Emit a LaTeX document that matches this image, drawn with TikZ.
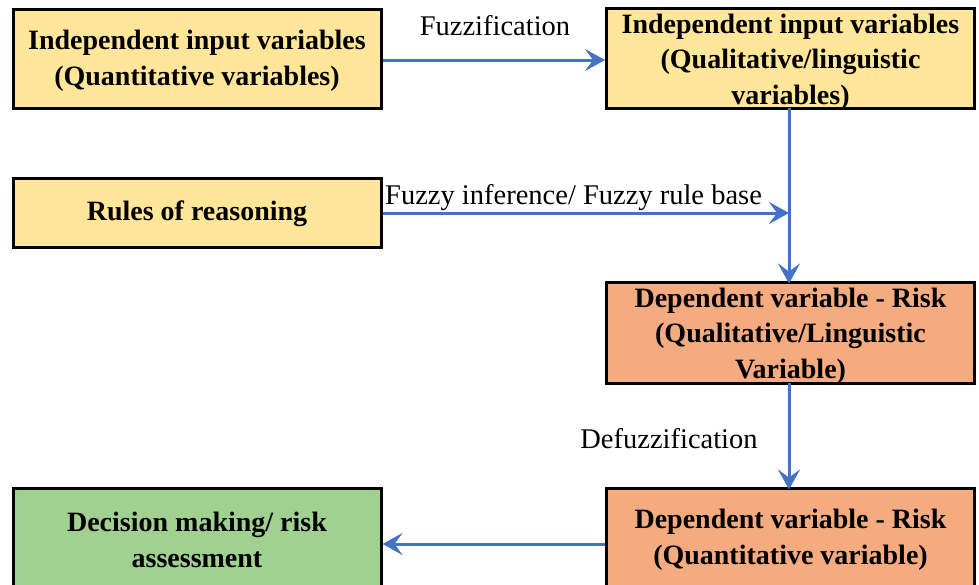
\documentclass[tikz,border=0pt]{standalone}
\usepackage{fontspec}
\setmainfont{Liberation Serif}
\usetikzlibrary{arrows.meta}
\definecolor{boxyellow}{HTML}{FFE699}
\definecolor{boxorange}{HTML}{F4AB7F}
\definecolor{boxgreen}{HTML}{A0D190}
\definecolor{flowblue}{HTML}{4472C4}
\tikzset{
  box/.style={draw=black, line width=3pt, minimum width=368pt, inner sep=0pt},
  boxtext/.style={font=\fontsize{28}{35.5}\selectfont\bfseries, align=center, inner sep=0pt},
  flow/.style={draw=flowblue, line width=3pt,
    -{Stealth[length=20pt, width=22pt, inset=8pt]}},
  flowlabel/.style={font=\fontsize{28.5}{32}\selectfont, inner sep=0pt}
}
\begin{document}
\begin{tikzpicture}[x=1pt, y=-1pt]
\useasboundingbox (0,0) rectangle (979,584);

% boxes
\node[box, fill=boxyellow, minimum height=99pt]  (A) at (197,58.5) {};
\node[box, fill=boxyellow, minimum height=100pt] (B) at (790.5,58) {};
\node[box, fill=boxyellow, minimum height=69pt]  (C) at (197,212.5) {};
\node[box, fill=boxorange, minimum height=101pt] (D) at (790.5,332.5) {};
\node[box, fill=boxgreen,  minimum height=104pt] (E) at (197,540) {};
\node[box, fill=boxorange, minimum height=104pt] (F) at (790.5,540) {};

% box texts
\node[boxtext] (tA) at (197,61) {Independent input variables\\(Quantitative variables)};
\node[boxtext] (tB) at (790.5,62) {Independent input variables\\(Qualitative/linguistic\\variables)};
\node[boxtext] (tC) at (197,214) {Rules of reasoning};
\node[boxtext] (tD) at (790.5,336) {Dependent variable - Risk\\(Qualitative/Linguistic\\Variable)};
\node[boxtext] (tE) at (197,540) {Decision making/ risk\\assessment};
\node[boxtext] (tF) at (790.5,540) {Dependent variable - Risk\\(Quantitative variable)};

% connectors
\coordinate (Bb) at (789,108);
\coordinate (Dt) at (789,282);
\coordinate (Db) at (789,383);
\coordinate (Ft) at (789,488);
\coordinate (J) at (789,213);
\draw[flow] (A.east |- 0,60) -- (B.west |- 0,60);
\draw[flow, shorten >=-1.5pt] (Bb) -- (Dt);
\draw[flow] (C.east |- J) -- (J);
\draw[flow, shorten >=-1.5pt] (Db) -- (Ft);
\draw[flow] (F.west |- 0,544) -- (E.east |- 0,544);

% connector labels
\node[flowlabel] (lA) at (495,26) {Fuzzification};
\node[flowlabel, anchor=west] (lC) at (385,198) {Fuzzy inference/ Fuzzy rule base};
\node[flowlabel] (lD) at (669,439) {Defuzzification};
\end{tikzpicture}
\end{document}
